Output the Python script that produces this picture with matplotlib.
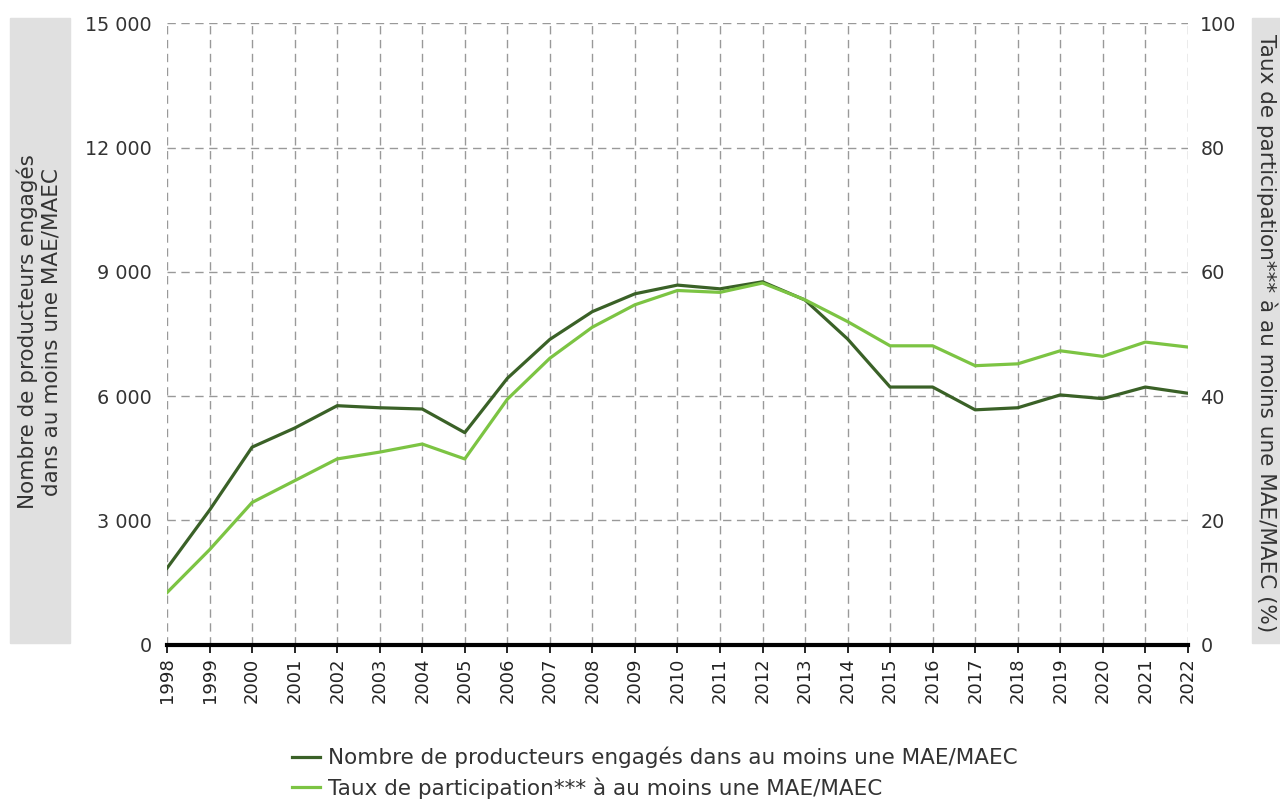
import matplotlib
matplotlib.use("Agg")
import matplotlib.pyplot as plt
import matplotlib.patches as mpatches
from matplotlib.ticker import FuncFormatter

# values
years = list(range(1998, 2023))
producteurs = [1850, 3250, 4770, 5230, 5770, 5720, 5690, 5120, 6430, 7370,
               8040, 8470, 8680, 8590, 8760, 8320, 7380, 6220, 6220, 5670,
               5720, 6030, 5940, 6220, 6070]
taux = [8.4, 15.3, 22.9, 26.4, 29.9, 31.0, 32.3, 29.9, 39.5, 46.1,
        51.1, 54.7, 57.0, 56.7, 58.2, 55.5, 52.0, 48.1, 48.1, 44.9,
        45.2, 47.3, 46.4, 48.7, 47.9]
left_ticks = [0, 3000, 6000, 9000, 12000, 15000]
right_ticks = [0, 20, 40, 60, 80, 100]

label_left = "Nombre de producteurs engagés\ndans au moins une MAE/MAEC"
label_right = "Taux de participation*** à au moins une MAE/MAEC (%)"
leg_left = "Nombre de producteurs engagés dans au moins une MAE/MAEC"
leg_right = "Taux de participation*** à au moins une MAE/MAEC"

dark = "#3a6127"
light = "#7cc443"
txt = "#333333"

plt.rcParams['font.family'] = 'DejaVu Sans'

fig = plt.figure(figsize=(12.8, 8), dpi=100)
ax = fig.add_axes([0.1305, 0.194, 0.928 - 0.1305, 0.971 - 0.194])
ax2 = ax.twinx()

l1, = ax.plot(years, producteurs, color=dark, lw=2.3, zorder=3)
l2, = ax2.plot(years, taux, color=light, lw=2.3, zorder=3)

ax.set_xlim(1998, 2022)
ax.set_ylim(0, 15000)
ax2.set_ylim(0, 100)
ax.set_xticks(years)
ax.set_xticklabels([str(y) for y in years], rotation=90, fontsize=13, color='#222222')
ax.set_yticks(left_ticks)
ax.yaxis.set_major_formatter(FuncFormatter(lambda v, p: f"{int(v):,}".replace(",", " ")))
ax2.set_yticks(right_ticks)

ax.tick_params(axis='y', length=0, labelsize=13.8, labelcolor=txt, pad=11)
ax2.tick_params(axis='y', length=0, labelsize=13.8, labelcolor=txt, pad=9)
ax.tick_params(axis='x', length=6, width=1.2, color='black', pad=3)

ax.grid(True, color='#999999', linestyle=(0, (6, 4)), linewidth=1)
ax.set_axisbelow(True)
for a in (ax, ax2):
    for s in ('top', 'left', 'right'):
        a.spines[s].set_visible(False)
    a.spines['bottom'].set_linewidth(3)
    a.spines['bottom'].set_color('black')
ax2.spines['bottom'].set_visible(False)

# grey boxes behind axis titles
fig.patches.append(mpatches.Rectangle((10 / 1280, 1 - 643 / 800), 60 / 1280, 625 / 800,
                                      transform=fig.transFigure, color='#e0e0e0', zorder=0))
fig.patches.append(mpatches.Rectangle((1252 / 1280, 1 - 643 / 800), 30 / 1280, 625 / 800,
                                      transform=fig.transFigure, color='#e0e0e0', zorder=0))
fig.text(39 / 1280, 1 - 332 / 800, label_left, rotation=90, ha='center', va='center',
         fontsize=15.5, color=txt, linespacing=1.2)
fig.text(1267 / 1280, 1 - 333 / 800, label_right, rotation=270, ha='center', va='center',
         fontsize=15.5, color=txt)

fig.legend([l1, l2], [leg_left, leg_right], loc='upper left',
           bbox_to_anchor=(283 / 1280, 1 - 738 / 800), frameon=False,
           fontsize=15.5, handlelength=1.3, handletextpad=0.4, labelspacing=0.42,
           labelcolor=txt, borderaxespad=0)

fig.savefig("out.png", dpi=100)
